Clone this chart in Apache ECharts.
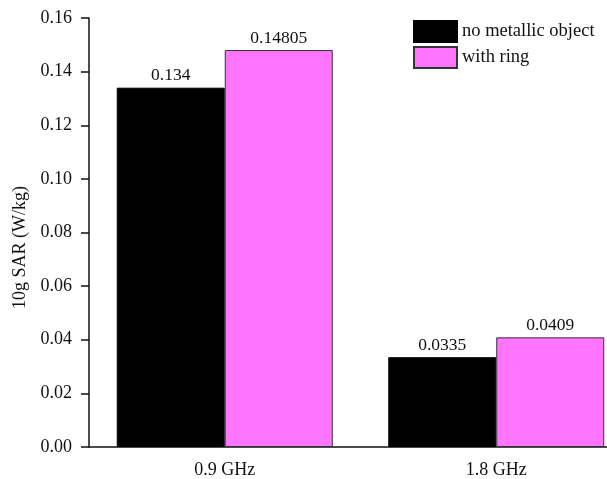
<!DOCTYPE html>
<html><head><meta charset="utf-8">
<script src="https://cdn.jsdelivr.net/npm/echarts@6/dist/echarts.min.js"></script>
<style>html,body{margin:0;padding:0;background:#fff}#c{width:607px;height:479px}</style>
</head><body><div id="c"></div>
<script>
var categories = ['0.9 GHz', '1.8 GHz'];
var seriesNames = ['no metallic object', 'with ring'];
var noMetal = [0.134, 0.0335];
var withRing = [0.14805, 0.0409];
var labelsNoMetal = ['0.134', '0.0335'];
var labelsWithRing = ['0.14805', '0.0409'];
var yTicks = ['0.00','0.02','0.04','0.06','0.08','0.10','0.12','0.14','0.16'];

var font = 'Liberation Serif';
var chart = echarts.init(document.getElementById('c'), null, {renderer: 'canvas'});
function mk(name, vals, labs, color, border) {
  return {
    name: name, type: 'bar', data: vals, barWidth: 108, barGap: '0%',
    itemStyle: {color: color, borderColor: border, borderWidth: 1},
    label: {show: true, position: 'top', distance: 3, fontFamily: font, fontSize: 17.5, color: '#111',
      formatter: function (p) { return labs[p.dataIndex]; }},
    emphasis: {disabled: true}
  };
}
chart.setOption({
  backgroundColor: '#fff',
  animation: false,
  grid: {left: 89, top: 18, width: 543, height: 429, containLabel: false, outerBoundsMode: 'none'},
  legend: {
    orient: 'vertical', left: 413, top: 20, padding: 0, itemWidth: 43, itemHeight: 21, itemGap: 3,
    icon: 'rect',
    textStyle: {fontFamily: font, fontSize: 18.5, color: '#111'},
    data: seriesNames
  },
  xAxis: {
    type: 'category', data: categories,
    axisLine: {lineStyle: {color: '#111', width: 1.5}},
    axisTick: {alignWithLabel: true, length: 8, lineStyle: {color: '#111', width: 1.5}},
    axisLabel: {fontFamily: font, fontSize: 18, color: '#111', margin: 14}
  },
  yAxis: {
    type: 'value', min: 0, max: 0.16, interval: 0.02,
    name: '10g SAR (W/kg)', nameLocation: 'middle', nameGap: 59, nameRotate: 90,
    nameTextStyle: {fontFamily: font, fontSize: 18, color: '#111', padding: [0, 30, 0, 0]},
    axisLine: {show: true, lineStyle: {color: '#111', width: 1.5}},
    axisTick: {show: true, length: 8, lineStyle: {color: '#111', width: 1.5}},
    splitLine: {show: false},
    axisLabel: {fontFamily: font, fontSize: 18, color: '#111', margin: 17,
      formatter: function (v) { var i = Math.round(v / 0.02); return yTicks[i]; }}
  },
  series: [
    mk(seriesNames[0], noMetal, labelsNoMetal, '#000000', '#000000'),
    mk(seriesNames[1], withRing, labelsWithRing, '#FF75FF', '#333333')
  ]
});
</script></body></html>
